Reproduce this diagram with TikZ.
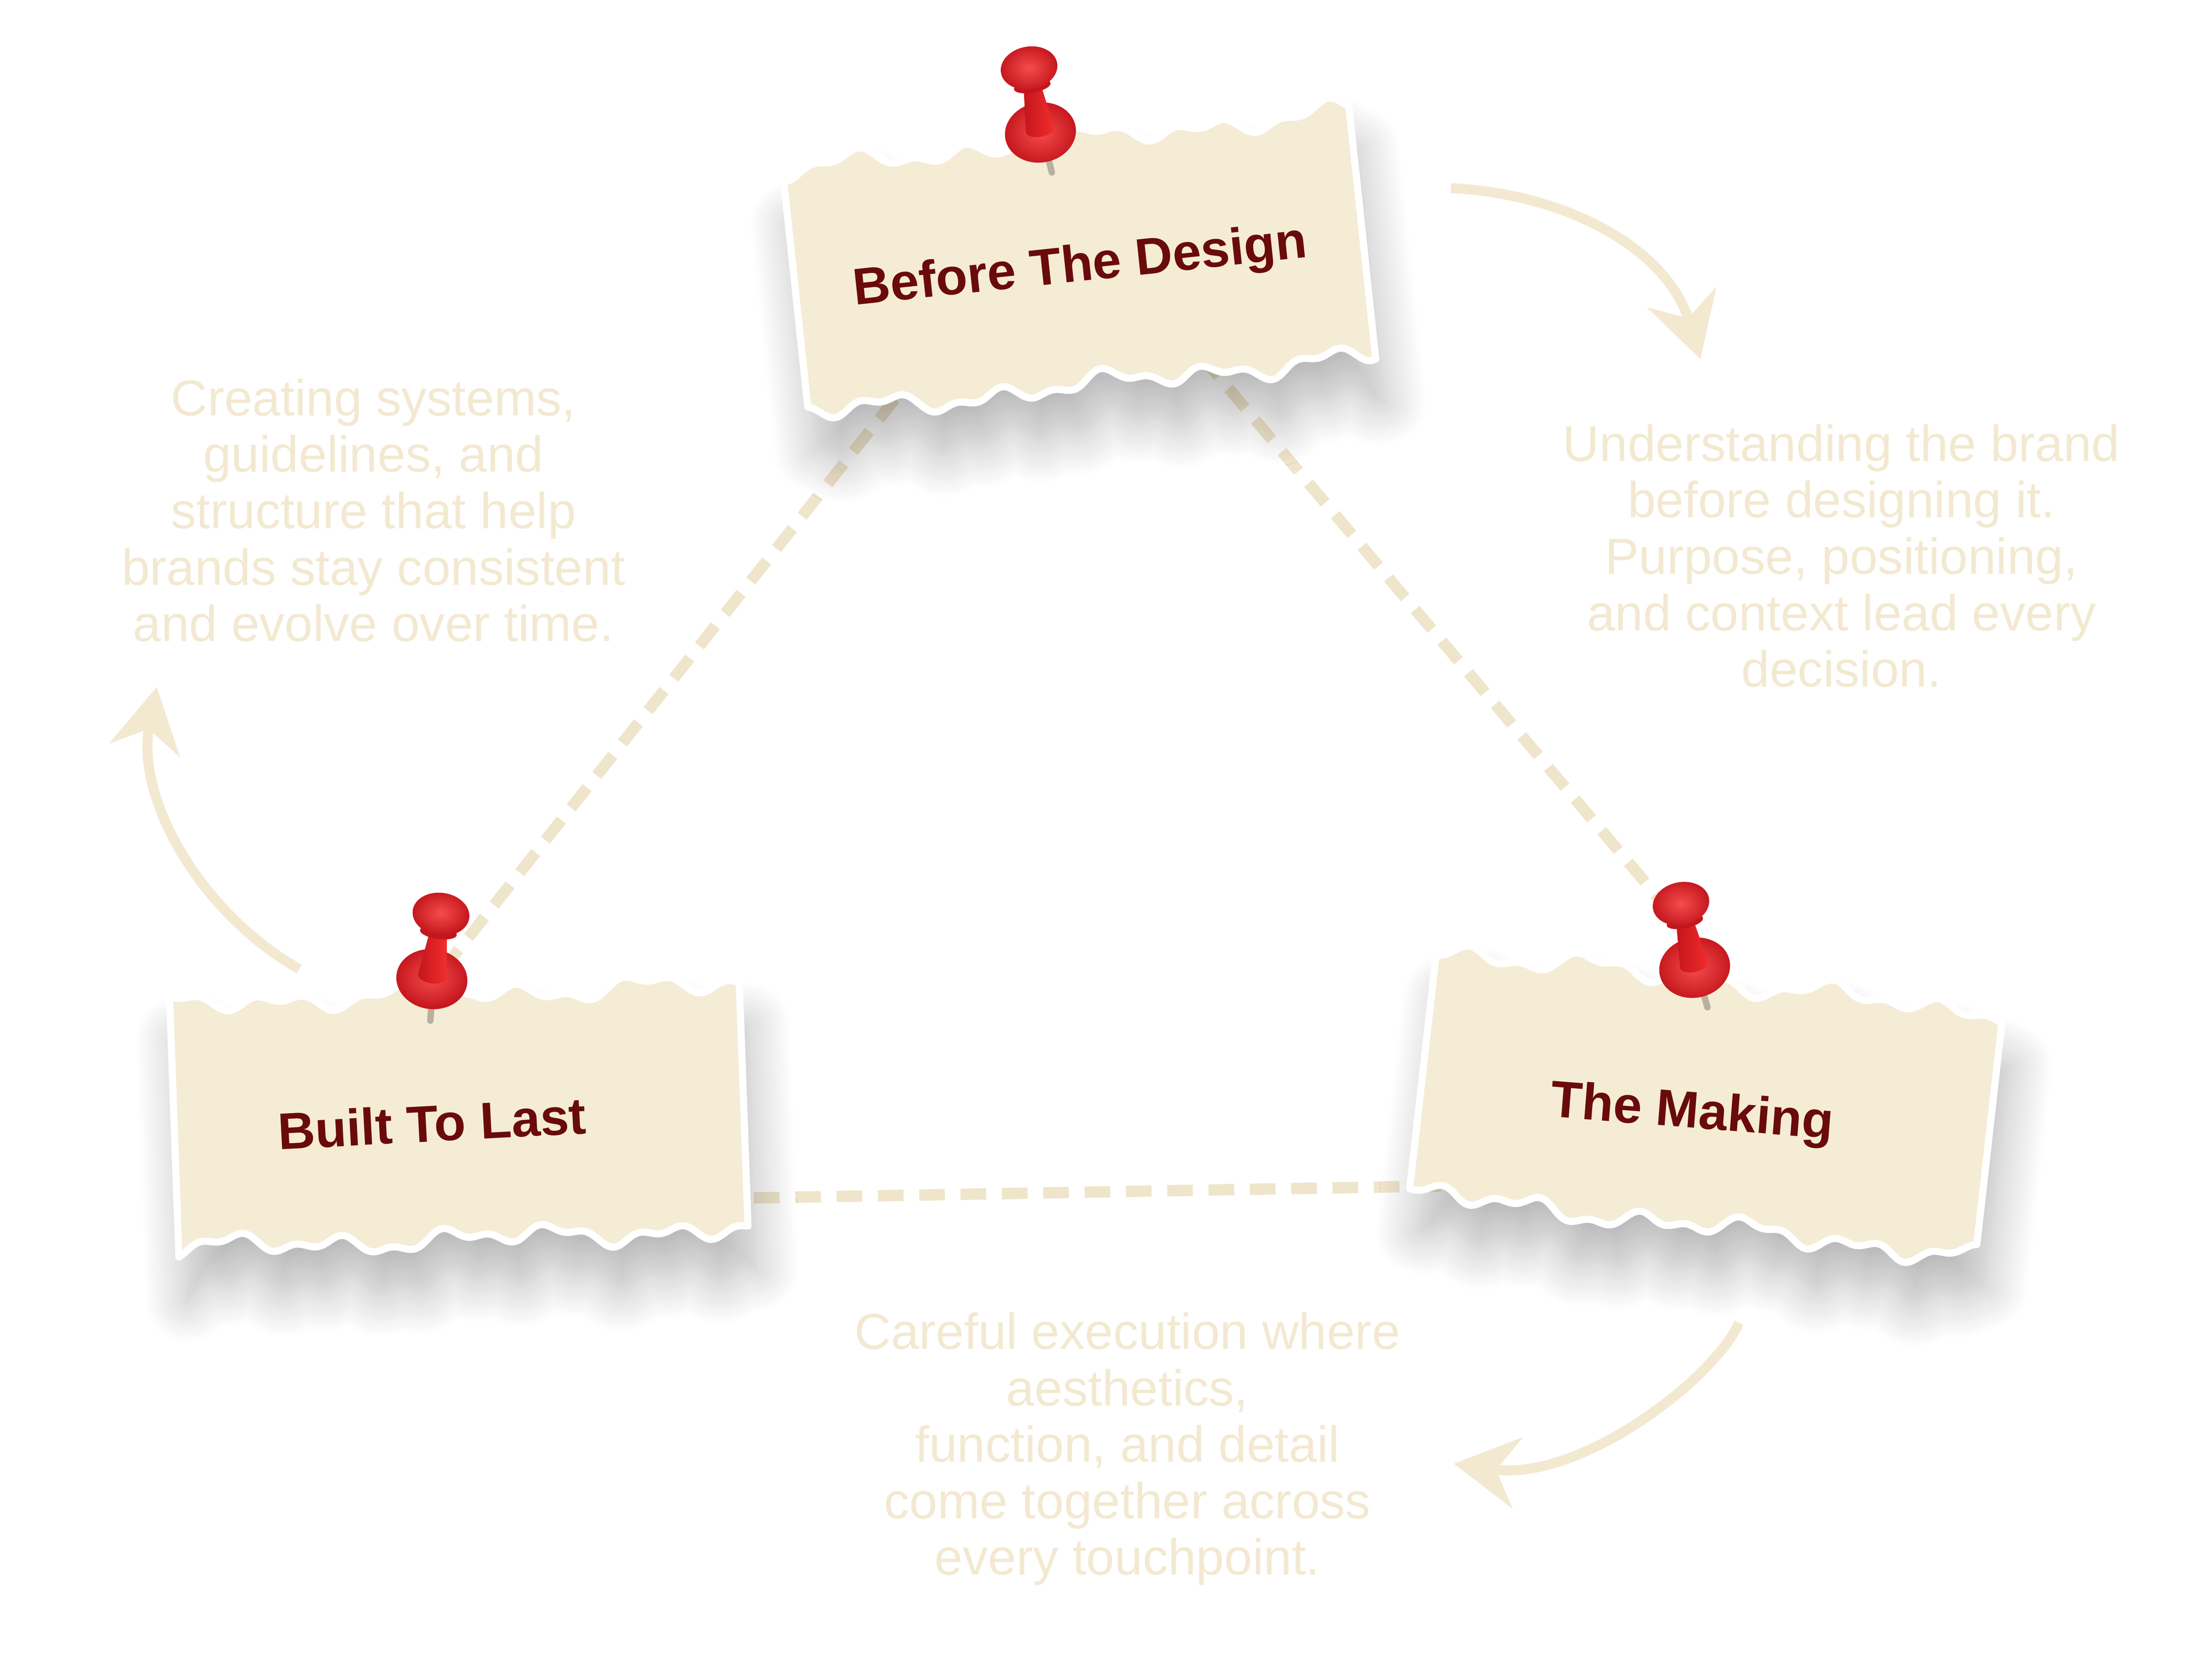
\documentclass[tikz,border=0pt]{standalone}
\usepackage{fontspec}
\setmainfont{Liberation Sans}
\usepackage{tikz}
\usetikzlibrary{arrows.meta}
\usetikzlibrary{shadows.blur}

\definecolor{paper}{HTML}{F5ECD6}
\definecolor{cream}{HTML}{F3E9D1}
\definecolor{dashcol}{HTML}{EFE5CB}
\definecolor{ink}{HTML}{6A0B0B}
\definecolor{pinred}{HTML}{F22D2D}
\definecolor{pindark}{HTML}{C3151C}
\definecolor{needle}{HTML}{B9B0A2}

% torn paper: x, y, angle, phase
\newcommand{\tornnote}[4]{%
  \begin{scope}[shift={(#1,#2)}, rotate=#3]
    \fill[paper, draw=white, line width=0.05cm, line join=round,
      blur shadow={shadow xshift=0.06cm, shadow yshift=-0.3cm,
        shadow blur radius=0.3cm, shadow blur steps=16, shadow opacity=28}]
      plot[domain=-2:2, samples=120, smooth] (\x, {0.86+0.045*sin(430*\x+#4)+0.03*sin(980*\x+3*#4)+0.03*sin(210*\x+2*#4)})
      -- plot[domain=2:-2, samples=120, smooth] (\x, {-0.86+0.045*sin(470*\x+2*#4)+0.03*sin(1050*\x+#4)+0.03*sin(190*\x+3*#4)})
      -- cycle;
  \end{scope}}

% push pin: x, y, tilt
\newcommand{\pushpin}[3]{%
  \begin{scope}[shift={(#1,#2)}, rotate=#3]
    \draw[needle, line width=0.045cm, line cap=round] (0.02,-0.14) -- (0.03,-0.29);
    \shade[inner color=pinred!85!white, outer color=pindark] (0,0) ellipse (0.25 and 0.21);
    \shade[left color=pindark, right color=pinred] (-0.1,0.02) -- (-0.06,0.34) -- (0.06,0.34)
      -- (0.1,0.02) arc[start angle=0, end angle=-180, x radius=0.1, y radius=0.05] -- cycle;
    \fill[pindark] (0,0.33) ellipse (0.13 and 0.045);
    \shade[inner color=pinred!85!white, outer color=pindark] (0,0.46) ellipse (0.2 and 0.15);
  \end{scope}}

\begin{document}
\begin{tikzpicture}[
    link/.style={draw=dashcol, line width=0.08cm, dash pattern=on 0.18cm off 0.11cm},
    cyclearrow/.style={draw=cream, line width=0.07cm, -{Stealth[length=0.45cm, width=0.5cm, inset=0.15cm]}},
    notetitle/.style={font={\fontsize{10.3pt}{12pt}\selectfont\bfseries}, text=ink},
    blurb/.style={font={\fontsize{10.1pt}{11.27pt}\selectfont}, text=cream, align=center, anchor=base}]
  \useasboundingbox (0,0) rectangle (15.52,-11.64);

  % dashed triangle
  \coordinate (d1a) at (7.00,-1.89);
  \coordinate (d1b) at (3.15,-6.75);
  \coordinate (d2a) at (8.06,-2.06);
  \coordinate (d2b) at (11.72,-6.40);
  \coordinate (d3a) at (5.00,-8.41);
  \coordinate (d3b) at (10.20,-8.32);
  \draw[link] (d1a) -- (d1b);
  \draw[link] (d2a) -- (d2b);
  \draw[link] (d3a) -- (d3b);

  % curved arrows
  \coordinate (a1s) at (10.18,-1.32);
  \coordinate (a1e) at (11.93,-2.52);
  \coordinate (a2s) at (12.20,-9.28);
  \coordinate (a2e) at (10.20,-10.27);
  \coordinate (a3s) at (2.10,-6.80);
  \coordinate (a3e) at (1.10,-4.82);
  \draw[cyclearrow] (a1s) .. controls (11.00,-1.36) and (11.70,-1.75) .. (a1e);
  \draw[cyclearrow] (a2s) .. controls (12.05,-9.65) and (11.10,-10.40) .. (a2e);
  \draw[cyclearrow] (a3s) .. controls (1.40,-6.40) and (0.95,-5.60) .. (a3e);

  % notes
  \tornnote{7.57}{-1.84}{6}{20}
  \tornnote{11.97}{-7.74}{-6.5}{130}
  \tornnote{3.22}{-7.83}{2}{250}

  \node[notetitle, rotate=6] (design) at (7.58,-1.88) {Before The Design};
  \node[notetitle, rotate=-4.5] (making) at (11.87,-7.82) {The Making};
  \node[notetitle, rotate=3] (lasting) at (3.03,-7.88) {Built To Last};

  \pushpin{7.30}{-0.93}{10}
  \pushpin{11.89}{-6.79}{12}
  \pushpin{3.03}{-6.87}{-8}

  % texts
  \node[blurb] (blurblast) at (2.62,-4.50) {Creating systems,\\guidelines, and\\structure that help\\brands stay consistent\\and evolve over time.};
  \node[blurb] (blurbdesign) at (12.92,-4.82) {Understanding the brand\\before designing it.\\Purpose, positioning,\\and context lead every\\decision.};
  \node[blurb] (blurbmaking) at (7.91,-11.05) {Careful execution where\\aesthetics,\\function, and detail\\come together across\\every touchpoint.};
\end{tikzpicture}
\end{document}
